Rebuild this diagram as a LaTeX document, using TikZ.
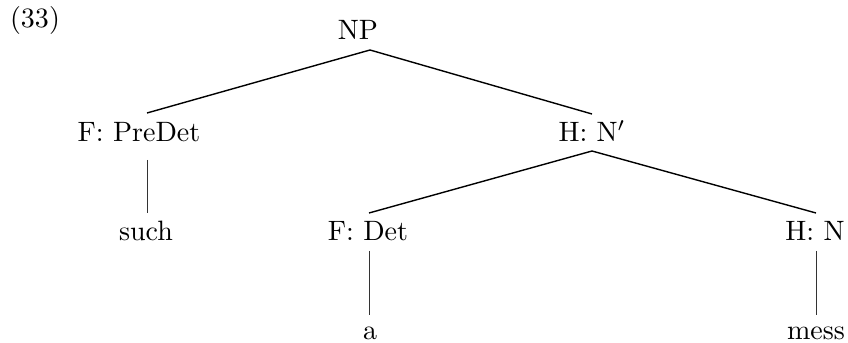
\documentclass[tikz,border=0pt]{standalone}
\begin{document}
\begin{tikzpicture}[x=0.357pt,y=-0.357pt,
  lbl/.style={anchor=base,inner sep=0pt,font=\fontsize{10}{12}\selectfont},
  branch/.style={line width=0.5pt,black},
  stem/.style={line width=0.3pt,black!80}]
\useasboundingbox (0,0) rectangle (848,343);
% labels
\node[lbl] (ex) at (35,28) {(33)};
\node[lbl] (np) at (358,40) {NP};
\node[lbl] (predet) at (139,142) {F: PreDet};
\node[lbl] (nbar) at (592,142) {H: N$'$};
\node[lbl] (such) at (146,241) {such};
\node[lbl] (det) at (368,241) {F: Det};
\node[lbl] (hn) at (815,241) {H: N};
\node[lbl] (a) at (370,339) {a};
\node[lbl] (mess) at (816,339) {mess};
% attachment points
\coordinate (np-b) at (370,50);
\coordinate (predet-t) at (147,113);
\coordinate (predet-b) at (147,160);
\coordinate (such-t) at (147,213);
\coordinate (nbar-t) at (592,114);
\coordinate (nbar-b) at (592,151);
\coordinate (det-t) at (369,213);
\coordinate (det-b) at (369,251);
\coordinate (a-t) at (369,315);
\coordinate (hn-t) at (816,213);
\coordinate (hn-b) at (816,251);
\coordinate (mess-t) at (816,315);
% branches
\draw[branch] (predet-t) -- (np-b) -- (nbar-t);
\draw[stem] (predet-b) -- (such-t);
\draw[branch] (det-t) -- (nbar-b) -- (hn-t);
\draw[stem] (det-b) -- (a-t);
\draw[stem] (hn-b) -- (mess-t);
\end{tikzpicture}
\end{document}
